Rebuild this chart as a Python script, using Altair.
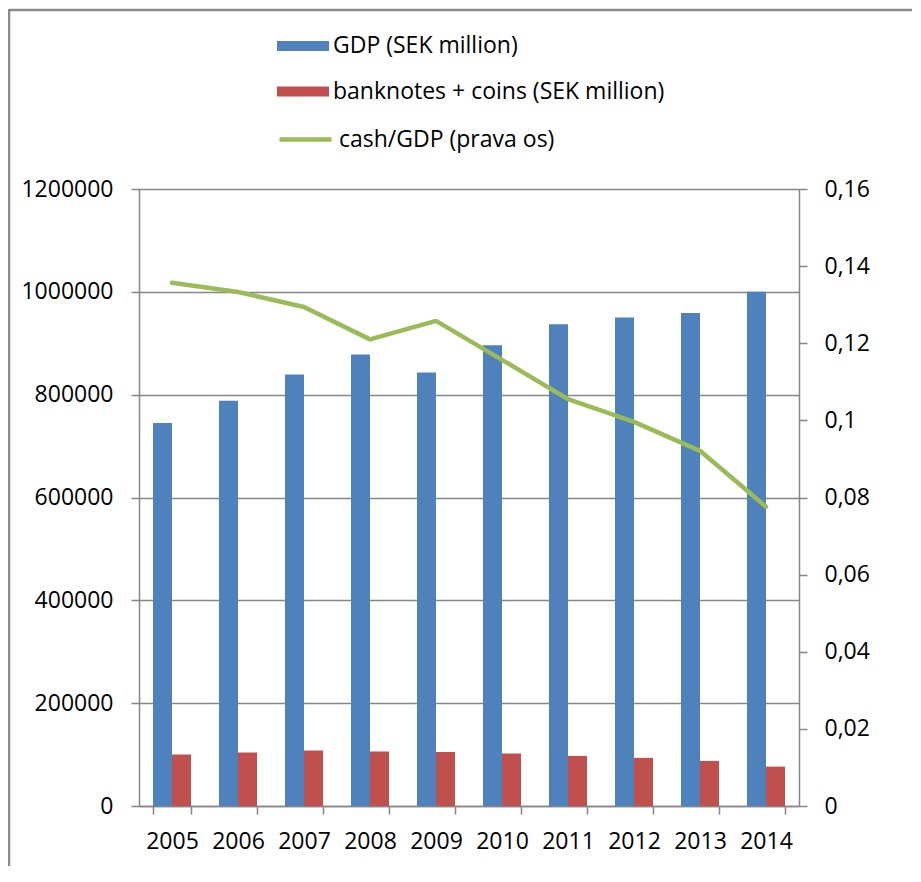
import altair as alt
import pandas as pd

years = ["2005", "2006", "2007", "2008", "2009", "2010", "2011", "2012", "2013", "2014"]
gdp = [745000, 788000, 839000, 878000, 843000, 896000, 937000, 950000, 959000, 1000000]
cash = [100000, 103900, 107800, 105800, 105200, 102000, 97500, 93600, 87700, 76600]
ratio = [0.1357, 0.1333, 0.1294, 0.1210, 0.1258, 0.1157, 0.1055, 0.0996, 0.0921, 0.0776]

S_GDP = "GDP (SEK million)"
S_CASH = "banknotes + coins (SEK million)"
S_RATIO = "cash/GDP (prava os)"
bar_series = [S_GDP, S_CASH]
bar_colors = ["#4F81BD", "#C0504D"]
line_color = "#9BBB59"

bars_df = pd.DataFrame(
    {"year": years * 2,
     "series": [S_GDP] * len(years) + [S_CASH] * len(years),
     "value": gdp + cash}
)
line_df = pd.DataFrame({"year": years, "series": [S_RATIO] * len(years), "ratio": ratio})

FONT = "Open Sans"
FS = 23
GRID = "#868686"

xscale = alt.Scale(paddingInner=0.424, paddingOuter=0.212)

bar_legend = alt.Legend(
    title=None, orient="none", legendX=151, legendY=-156, direction="vertical",
    padding=0, symbolType="M-2,-0.38H2V0.38H-2Z", symbolSize=676, symbolStrokeWidth=0,
    rowPadding=20.5, labelOffset=17, labelFont=FONT, labelFontSize=FS,
    labelColor="#000000", labelLimit=500,
)
line_legend = alt.Legend(
    title=None, orient="none", legendX=138, legendY=-78, direction="vertical",
    padding=0, symbolType="stroke", symbolSize=2704, symbolStrokeWidth=4.5,
    labelOffset=5, labelFont=FONT, labelFontSize=FS, labelColor="#000000", labelLimit=500,
)

bars = alt.Chart(bars_df).mark_bar().encode(
    x=alt.X("year:N", scale=xscale, sort=years,
            axis=alt.Axis(title=None, tickBand="extent", labelAngle=0, labelPadding=16.5,
                          tickSize=8, tickColor=GRID, tickWidth=1.5, domainColor=GRID,
                          domainWidth=1.5, labelFont=FONT, labelFontSize=FS, labelColor="#000000")),
    xOffset=alt.XOffset("series:N", sort=bar_series),
    y=alt.Y("value:Q", scale=alt.Scale(domain=[0, 1200000], nice=False),
            axis=alt.Axis(title=None, orient="left",
                          values=[0, 200000, 400000, 600000, 800000, 1000000, 1200000],
                          format="d", grid=True, gridColor=GRID, gridWidth=1.5,
                          tickSize=8, tickColor=GRID, tickWidth=1.5, domainColor=GRID,
                          domainWidth=1.5, labelPadding=18, labelFont=FONT, labelFontSize=FS,
                          labelColor="#000000")),
    color=alt.Color("series:N", scale=alt.Scale(domain=bar_series, range=bar_colors),
                    legend=bar_legend),
)

line = alt.Chart(line_df).mark_line(strokeWidth=4.5, strokeCap="round", strokeJoin="round").encode(
    x=alt.X("year:N", scale=xscale, sort=years),
    y=alt.Y("ratio:Q", scale=alt.Scale(domain=[0, 0.16], nice=False),
            axis=alt.Axis(title=None, orient="right",
                          values=[0, 0.02, 0.04, 0.06, 0.08, 0.1, 0.12, 0.14, 0.16],
                          labelExpr="replace(toString(datum.value), '.', ',')",
                          grid=False, tickSize=8, tickColor=GRID, tickWidth=1.5,
                          domainColor=GRID, domainWidth=1.5, labelPadding=17,
                          labelFont=FONT, labelFontSize=FS, labelColor="#000000")),
    color=alt.Color("series:N", scale=alt.Scale(domain=[S_RATIO], range=[line_color]),
                    legend=line_legend),
)

one = pd.DataFrame({"a": [0]})
frame_top = alt.Chart(one).mark_rule(color="#8a8a8a", strokeWidth=2.5).encode(
    x=alt.value(-130), x2=alt.value(790), y=alt.value(-179))
frame_left = alt.Chart(one).mark_rule(color="#8a8a8a", strokeWidth=2.5).encode(
    x=alt.value(-130), y=alt.value(-180), y2=alt.value(700))

chart = alt.layer(bars, line, frame_top, frame_left).resolve_scale(
    y="independent", color="independent"
).properties(
    width=660,
    height=617,
    autosize=alt.AutoSizeParams(type="none"),
    padding={"left": 131, "top": 181, "right": 113, "bottom": 60},
).configure_view(stroke=None).configure(background="white")

chart.save("out.html", embed_options={"renderer": "svg", "actions": False})
